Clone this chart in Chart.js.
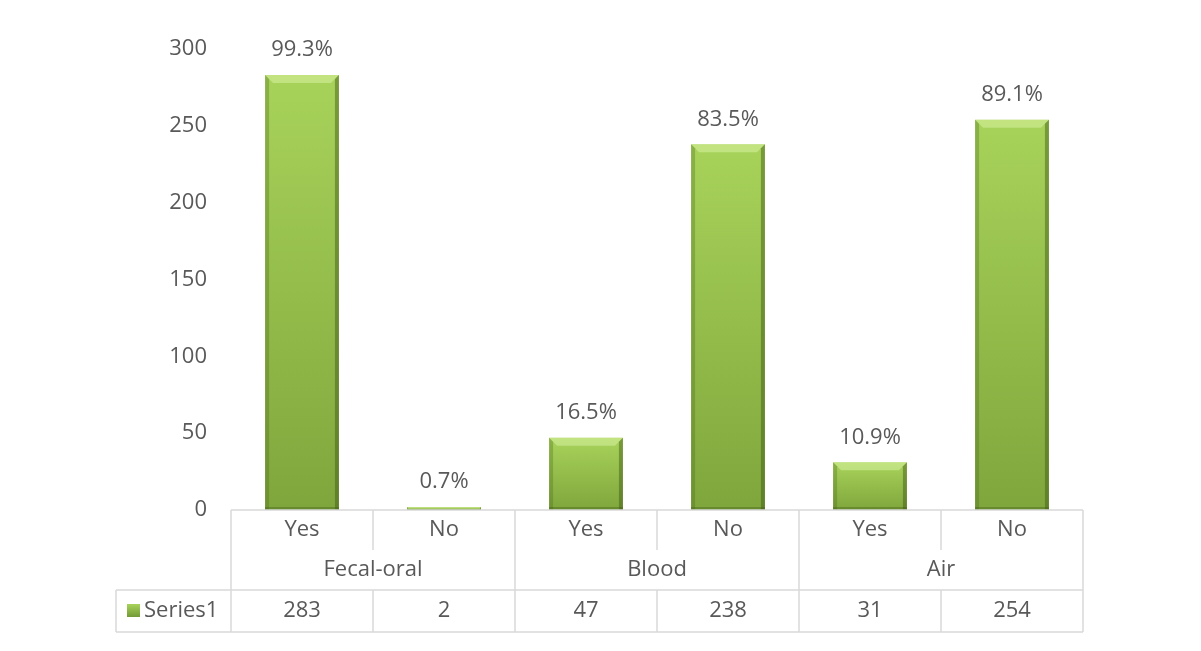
<!DOCTYPE html>
<html>
<head>
<meta charset="utf-8">
<script src="https://cdn.jsdelivr.net/npm/chart.js@4/dist/chart.umd.min.js"></script>
<style>
  html, body { margin: 0; padding: 0; background: #fff; }
  #wrap { width: 1201px; height: 651px; }
</style>
</head>
<body>
<div id="wrap"><canvas id="myChart" width="1201" height="651"></canvas></div>
<script>
// datos
const answers = ['Yes', 'No', 'Yes', 'No', 'Yes', 'No'];
const routes = ['Fecal-oral', 'Blood', 'Air'];
const counts = [283, 2, 47, 238, 31, 254];
const pctLabels = ['99.3%', '0.7%', '16.5%', '83.5%', '10.9%', '89.1%'];
const yTicks = [0, 50, 100, 150, 200, 250, 300];
const seriesName = 'Series1';

const FONT = '"Open Sans", "Noto Sans", sans-serif';
const TEXT = '#595959';
const LINE = '#d9d9d9';

// gradiente vertical de cada barra
function barFill(ctx) {
    const chart = ctx.chart;
    const y = chart.scales.y;
    if (!y || ctx.raw === undefined) return '#92c046';
    const top = y.getPixelForValue(ctx.raw);
    const base = y.getPixelForValue(0);
    if (!isFinite(top) || !isFinite(base) || base - top < 1) return '#8cb84a';
    const g = chart.ctx.createLinearGradient(0, top, 0, base);
    g.addColorStop(0, '#a8d35a');
    g.addColorStop(1, '#7fa63c');
    return g;
}

// bisel de las barras
const bevel = {
    id: 'bevel',
    afterDatasetsDraw(chart) {
        const c = chart.ctx;
        const meta = chart.getDatasetMeta(0);
        meta.data.forEach(bar => {
            const l = bar.x - bar.width / 2, r = bar.x + bar.width / 2;
            const t = bar.y, b = bar.base;
            const h = b - t;
            const e = Math.min(8, h / 2);
            if (h < 1) return;
            c.save();
            // borde superior claro
            c.fillStyle = 'rgba(215,240,160,0.55)';
            c.beginPath();
            c.moveTo(l, t); c.lineTo(r, t); c.lineTo(r - e, t + e); c.lineTo(l + e, t + e); c.closePath();
            c.fill();
            // lado derecho oscuro
            c.fillStyle = 'rgba(60,85,20,0.45)';
            c.beginPath();
            c.moveTo(r, t); c.lineTo(r, b); c.lineTo(r - e / 2, b); c.lineTo(r - e / 2, t + e / 2); c.closePath();
            c.fill();
            // lado izquierdo
            c.fillStyle = 'rgba(70,100,25,0.3)';
            c.beginPath();
            c.moveTo(l, t); c.lineTo(l + e / 2, t + e / 2); c.lineTo(l + e / 2, b); c.lineTo(l, b); c.closePath();
            c.fill();
            // abajo
            c.fillStyle = 'rgba(60,85,20,0.35)';
            c.fillRect(l, b - Math.min(3, e / 2), r - l, Math.min(3, e / 2));
            c.restore();
        });
    }
};

// etiquetas de porcentaje encima de cada barra
const pctPlugin = {
    id: 'pct',
    afterDatasetsDraw(chart) {
        const c = chart.ctx;
        const meta = chart.getDatasetMeta(0);
        c.save();
        c.font = '22px ' + FONT;
        c.fillStyle = TEXT;
        c.textAlign = 'center';
        c.textBaseline = 'bottom';
        meta.data.forEach((bar, i) => {
            c.fillText(pctLabels[i], bar.x, bar.y - 14);
        });
        c.restore();
    }
};

// tabla de datos bajo el eje
const tablePlugin = {
    id: 'dataTable',
    afterDraw(chart) {
        const c = chart.ctx;
        const area = chart.chartArea;
        const x = chart.scales.x;
        const n = answers.length;
        const w = area.width / n;
        const y0 = area.bottom, y1 = y0 + 40, y2 = y1 + 40, y3 = y2 + 42;
        const legL = 116;
        c.save();
        c.strokeStyle = LINE;
        c.lineWidth = 1.5;
        const line = (ax, ay, bx, by) => { c.beginPath(); c.moveTo(ax, ay); c.lineTo(bx, by); c.stroke(); };
        line(area.left, y0, area.right, y0);
        line(legL, y2, area.right, y2);
        line(legL, y3, area.right, y3);
        line(legL, y2, legL, y3);
        for (let i = 0; i <= n; i++) {
            const px = area.left + i * w;
            if (i % 2 === 0) line(px, y0, px, y3);
            else { line(px, y0, px, y1); line(px, y2, px, y3); }
        }
        c.font = '22px ' + FONT;
        c.fillStyle = TEXT;
        c.textAlign = 'center';
        c.textBaseline = 'middle';
        answers.forEach((a, i) => {
            const cx = x.getPixelForTick(i);
            c.fillText(a, cx, (y0 + y1) / 2);
            c.fillText(String(counts[i]), cx, (y2 + y3) / 2);
        });
        routes.forEach((r, g) => {
            const cx = area.left + (2 * g + 1) * w;
            c.fillText(r, cx, (y1 + y2) / 2);
        });
        // leyenda
        const my = (y2 + y3) / 2;
        const grad = c.createLinearGradient(0, my - 7, 0, my + 7);
        grad.addColorStop(0, '#a8d35a');
        grad.addColorStop(1, '#6f9634');
        c.fillStyle = grad;
        c.fillRect(127, my - 7, 13, 13);
        c.fillStyle = TEXT;
        c.textAlign = 'left';
        c.fillText(seriesName, 144, my);
        c.restore();
    }
};

new Chart(document.getElementById('myChart').getContext('2d'), {
    type: 'bar',
    data: {
        labels: answers,
        datasets: [{
            label: seriesName,
            data: counts,
            backgroundColor: barFill,
            borderWidth: 0,
            barPercentage: 0.52,
            categoryPercentage: 1
        }]
    },
    options: {
        responsive: false,
        animation: false,
        layout: { padding: { top: 49, right: 118, bottom: 141, left: 0 } },
        plugins: {
            legend: { display: false },
            tooltip: { enabled: false }
        },
        scales: {
            x: {
                display: false
            },
            y: {
                min: 0,
                max: 300,
                afterBuildTicks: scale => { scale.ticks = yTicks.map(v => ({ value: v })); },
                afterFit: scale => { scale.width = 231; },
                grid: { display: false },
                border: { display: false },
                ticks: {
                    color: TEXT,
                    font: { family: FONT, size: 22 },
                    padding: 16
                }
            }
        }
    },
    plugins: [bevel, pctPlugin, tablePlugin]
});
</script>
</body>
</html>
